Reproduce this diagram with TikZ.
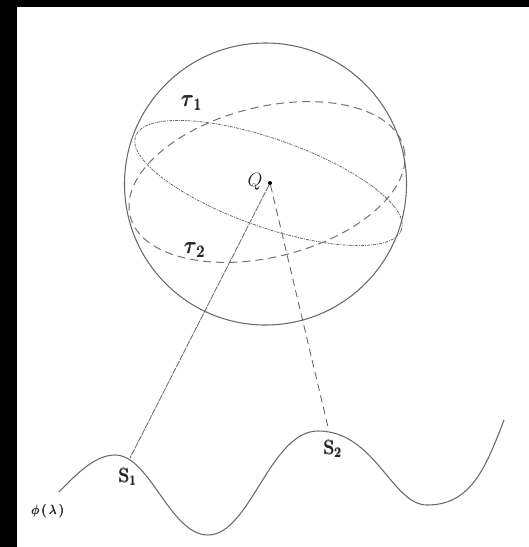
\documentclass[tikz,border=0pt]{standalone}
\usepackage{amsmath}
\tikzset{
  ink/.style={draw=black!58,line width=0.8pt},
  tauone/.style={draw=black!58,line width=0.6pt,dash pattern=on 2.2pt off 0.8pt on 0.8pt off 0.8pt},
  tautwo/.style={draw=black!55,line width=0.75pt,dash pattern=on 6pt off 3.8pt},
  lbl/.style={inner sep=0pt,text=black!85},
  lblbig/.style={lbl,font=\LARGE},
  lblq/.style={lbl,font=\Large},
  lbls/.style={lbl,font=\Large},
}
\begin{document}
\begin{tikzpicture}[x=0.75pt,y=-0.75pt]
\useasboundingbox (0,0) rectangle (529,547);
\fill[white] (0,0) rectangle (529,547);
\fill[black] (0,0) rectangle (529,7);
\fill[black] (0,0) rectangle (17,547);
% sphere
\draw[ink] (265.5,184) circle[radius=141];
% tau 1
\draw[tauone,rotate around={-19.4:(268.5,183)}] (268.5,183) ellipse[x radius=141,y radius=44];
% tau 2
\draw[tautwo,rotate around={14:(267,182)}] (267,182) ellipse[x radius=141,y radius=75];
% phi curve
\draw[ink] (59,492) .. controls (80,470) and (97,455) .. (115,455)
  .. controls (150,455) and (170,535) .. (208,535)
  .. controls (250,535) and (270,431) .. (318,431)
  .. controls (375,431) and (392,505) .. (427,505)
  .. controls (470,505) and (485,470) .. (504,420);
\coordinate (S1pt) at (130,458);
\coordinate (S2pt) at (328,427);
\node[circle,fill=black,inner sep=0pt,minimum size=3pt] (Qpt) at (270,183) {};
\draw[draw=black!60,line width=0.6pt,dash pattern=on 5pt off 0.7pt] (Qpt) -- (S1pt);
\draw[draw=black!60,line width=0.65pt,dash pattern=on 5.5pt off 3.5pt] (Qpt) -- (S2pt);
% labels
\node[lblbig] (tauA) at (192,103) {$\pmb{\tau}_{\pmb{1}}$};
\node[lblbig] (tauB) at (195,250) {$\pmb{\tau}_{\pmb{2}}$};
\node[lblq] (qlabel) at (255,182) {$Q$};
\node[lbls] (sA) at (128,477) {$\pmb{\mathrm{S}}_{\pmb{1}}$};
\node[lbls] (sB) at (333,449) {$\pmb{\mathrm{S}}_{\pmb{2}}$};
\node[lbl] (philabel) at (48,511) {$\pmb{\phi}\,\pmb{(}\,\pmb{\lambda}\,\pmb{)}$};
\end{tikzpicture}
\end{document}
